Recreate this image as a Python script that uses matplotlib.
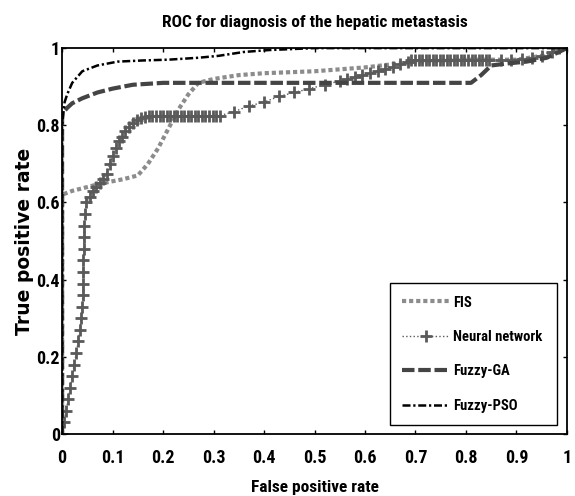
import matplotlib
matplotlib.use('Agg')
import matplotlib.pyplot as plt
from matplotlib import font_manager

# FIS
fis_x = [0, 0, 0.02, 0.05, 0.08, 0.12, 0.15, 0.17, 0.19, 0.21, 0.23, 0.25, 0.27, 0.30, 0.35,
         0.40, 0.50, 0.60, 0.70, 0.80, 0.90, 0.95, 1.0]
fis_y = [0, 0.62, 0.63, 0.64, 0.65, 0.66, 0.67, 0.70, 0.74, 0.79, 0.84, 0.88, 0.91, 0.92, 0.93,
         0.935, 0.94, 0.95, 0.965, 0.97, 0.97, 0.98, 1.0]

# Neural network
nn_x = [0, 0.004, 0.008, 0.012, 0.016, 0.020, 0.024, 0.028, 0.032, 0.035, 0.038, 0.040, 0.041,
        0.042, 0.042, 0.042, 0.043, 0.043, 0.044, 0.045, 0.048,
        0.055, 0.062, 0.068, 0.075, 0.082, 0.088, 0.094, 0.100, 0.106, 0.112, 0.118, 0.125,
        0.132, 0.140, 0.148, 0.156, 0.164, 0.172,
        0.179, 0.186, 0.193, 0.200, 0.207, 0.214, 0.221, 0.228, 0.235, 0.242, 0.249, 0.256,
        0.263, 0.270, 0.277, 0.284, 0.291, 0.298, 0.305, 0.312,
        0.34, 0.37, 0.40, 0.43, 0.46, 0.49, 0.52, 0.55,
        0.565, 0.58, 0.595, 0.61, 0.625, 0.64, 0.655, 0.67, 0.685,
        0.692, 0.699, 0.706, 0.713, 0.720, 0.727, 0.734, 0.741, 0.748, 0.755, 0.762, 0.769,
        0.776, 0.783, 0.790, 0.797, 0.804, 0.811, 0.818, 0.825, 0.832, 0.839, 0.846,
        0.87, 0.89, 0.91, 0.93, 0.95, 0.97, 0.985, 1.0]
nn_y = [0, 0.03, 0.06, 0.09, 0.12, 0.15, 0.18, 0.21, 0.24, 0.27, 0.30, 0.33, 0.36,
        0.39, 0.42, 0.45, 0.48, 0.51, 0.54, 0.57, 0.60,
        0.615, 0.63, 0.64, 0.65, 0.66, 0.675, 0.70, 0.72, 0.74, 0.76, 0.77, 0.785,
        0.795, 0.805, 0.813, 0.818, 0.822, 0.825,
        0.825, 0.825, 0.825, 0.825, 0.825, 0.825, 0.825, 0.825, 0.825, 0.825, 0.825, 0.825,
        0.825, 0.825, 0.825, 0.825, 0.825, 0.825, 0.825, 0.825,
        0.835, 0.85, 0.86, 0.875, 0.885, 0.895, 0.905, 0.915,
        0.92, 0.925, 0.93, 0.935, 0.94, 0.945, 0.95, 0.958, 0.965,
        0.968, 0.968, 0.968, 0.968, 0.968, 0.968, 0.968, 0.968, 0.968, 0.968, 0.968, 0.968,
        0.968, 0.968, 0.968, 0.968, 0.968, 0.968, 0.968, 0.968, 0.968, 0.968, 0.968,
        0.968, 0.97, 0.972, 0.975, 0.98, 0.99, 1.0, 1.0]

# Fuzzy-GA
ga_x = [0, 0, 0.01, 0.02, 0.04, 0.07, 0.10, 0.14, 0.20, 0.30, 0.40, 0.50, 0.60, 0.70, 0.81,
        0.83, 0.85, 0.88, 0.92, 0.96, 1.0]
ga_y = [0, 0.83, 0.845, 0.857, 0.87, 0.885, 0.895, 0.905, 0.91, 0.91, 0.91, 0.91, 0.91, 0.91, 0.91,
        0.93, 0.955, 0.96, 0.965, 0.975, 1.0]

# Fuzzy-PSO
pso_x = [0, 0, 0.005, 0.01, 0.02, 0.04, 0.07, 0.11, 0.16, 0.21, 0.27, 0.31, 0.36, 0.41, 0.5,
         0.6, 0.8, 1.0]
pso_y = [0, 0.80, 0.86, 0.88, 0.91, 0.94, 0.955, 0.965, 0.968, 0.97, 0.975, 0.98, 0.99, 0.995, 1.0,
         1.0, 1.0, 1.0]

x_ticks = [0, 0.1, 0.2, 0.3, 0.4, 0.5, 0.6, 0.7, 0.8, 0.9, 1]
x_labels = ['0', '0.1', '0.2', '0.3', '0.4', '0.5', '0.6', '0.7', '0.8', '0.9', '1']
y_ticks = [0, 0.2, 0.4, 0.6, 0.8, 1]
y_labels = ['0', '0.2', '0.4', '0.6', '0.8', '1']


def pick_narrow():
    # a condensed face, the reference uses something like Arial Narrow
    names = {f.name for f in font_manager.fontManager.ttflist}
    for want in ['Liberation Sans Narrow', 'Arial Narrow', 'Roboto Condensed']:
        if want in names:
            return want
    return 'Liberation Sans'


narrow = pick_narrow()

fig = plt.figure(figsize=(5.75, 4.96), dpi=100)
ax = fig.add_axes([0.108, 0.125, 0.878, 0.778])

ax.plot(fis_x, fis_y, color='#8c8c8c', lw=3, dashes=(1, 0.7), label='FIS')
ax.plot(nn_x, nn_y, color='#5a5a5a', lw=1, ls=':', marker='+', ms=9, mew=2,
        label='Neural network')
ax.plot(ga_x, ga_y, color='#444444', lw=3, dashes=(3, 0.9), label='Fuzzy-GA')
ax.plot(pso_x, pso_y, color='black', lw=1.8, dashes=(3.2, 1.1, 0.9, 1.1), label='Fuzzy-PSO')

ax.set_xlim(0, 1)
ax.set_ylim(0, 1)
ax.set_xticks(x_ticks)
ax.set_xticklabels(x_labels)
ax.set_yticks(y_ticks)
ax.set_yticklabels(y_labels)
ax.tick_params(direction='in', top=True, right=True, length=3, width=1)
ax.tick_params(axis='x', pad=11)
ax.tick_params(axis='y', pad=1.5)
for lab in ax.get_xticklabels() + ax.get_yticklabels():
    lab.set_family(narrow)
    lab.set_fontweight('bold')
    lab.set_fontsize(13)
for spine in ax.spines.values():
    spine.set_linewidth(1.3)

ax.set_title('ROC for diagnosis of the hepatic metastasis', family=narrow,
             fontweight='bold', fontsize=12.5, pad=15)
ax.set_xlabel('False positive rate', family=narrow, fontweight='bold', fontsize=12.5,
              labelpad=9)
ax.set_ylabel('True positive rate', family='DejaVu Sans', fontweight='bold',
              fontsize=13.5, labelpad=2)

leg = ax.legend(loc='upper left', bbox_to_anchor=(0.6495, 0.028, 0.331, 0.363),
                mode='expand', borderaxespad=0,
                prop={'family': narrow, 'weight': 'bold', 'size': 10.5},
                fancybox=False, edgecolor='black', framealpha=1, handlelength=3.2,
                handletextpad=0.3, borderpad=0.85, labelspacing=1.4)
leg.get_frame().set_linewidth(1)

fig.savefig('out.png', dpi=100)
